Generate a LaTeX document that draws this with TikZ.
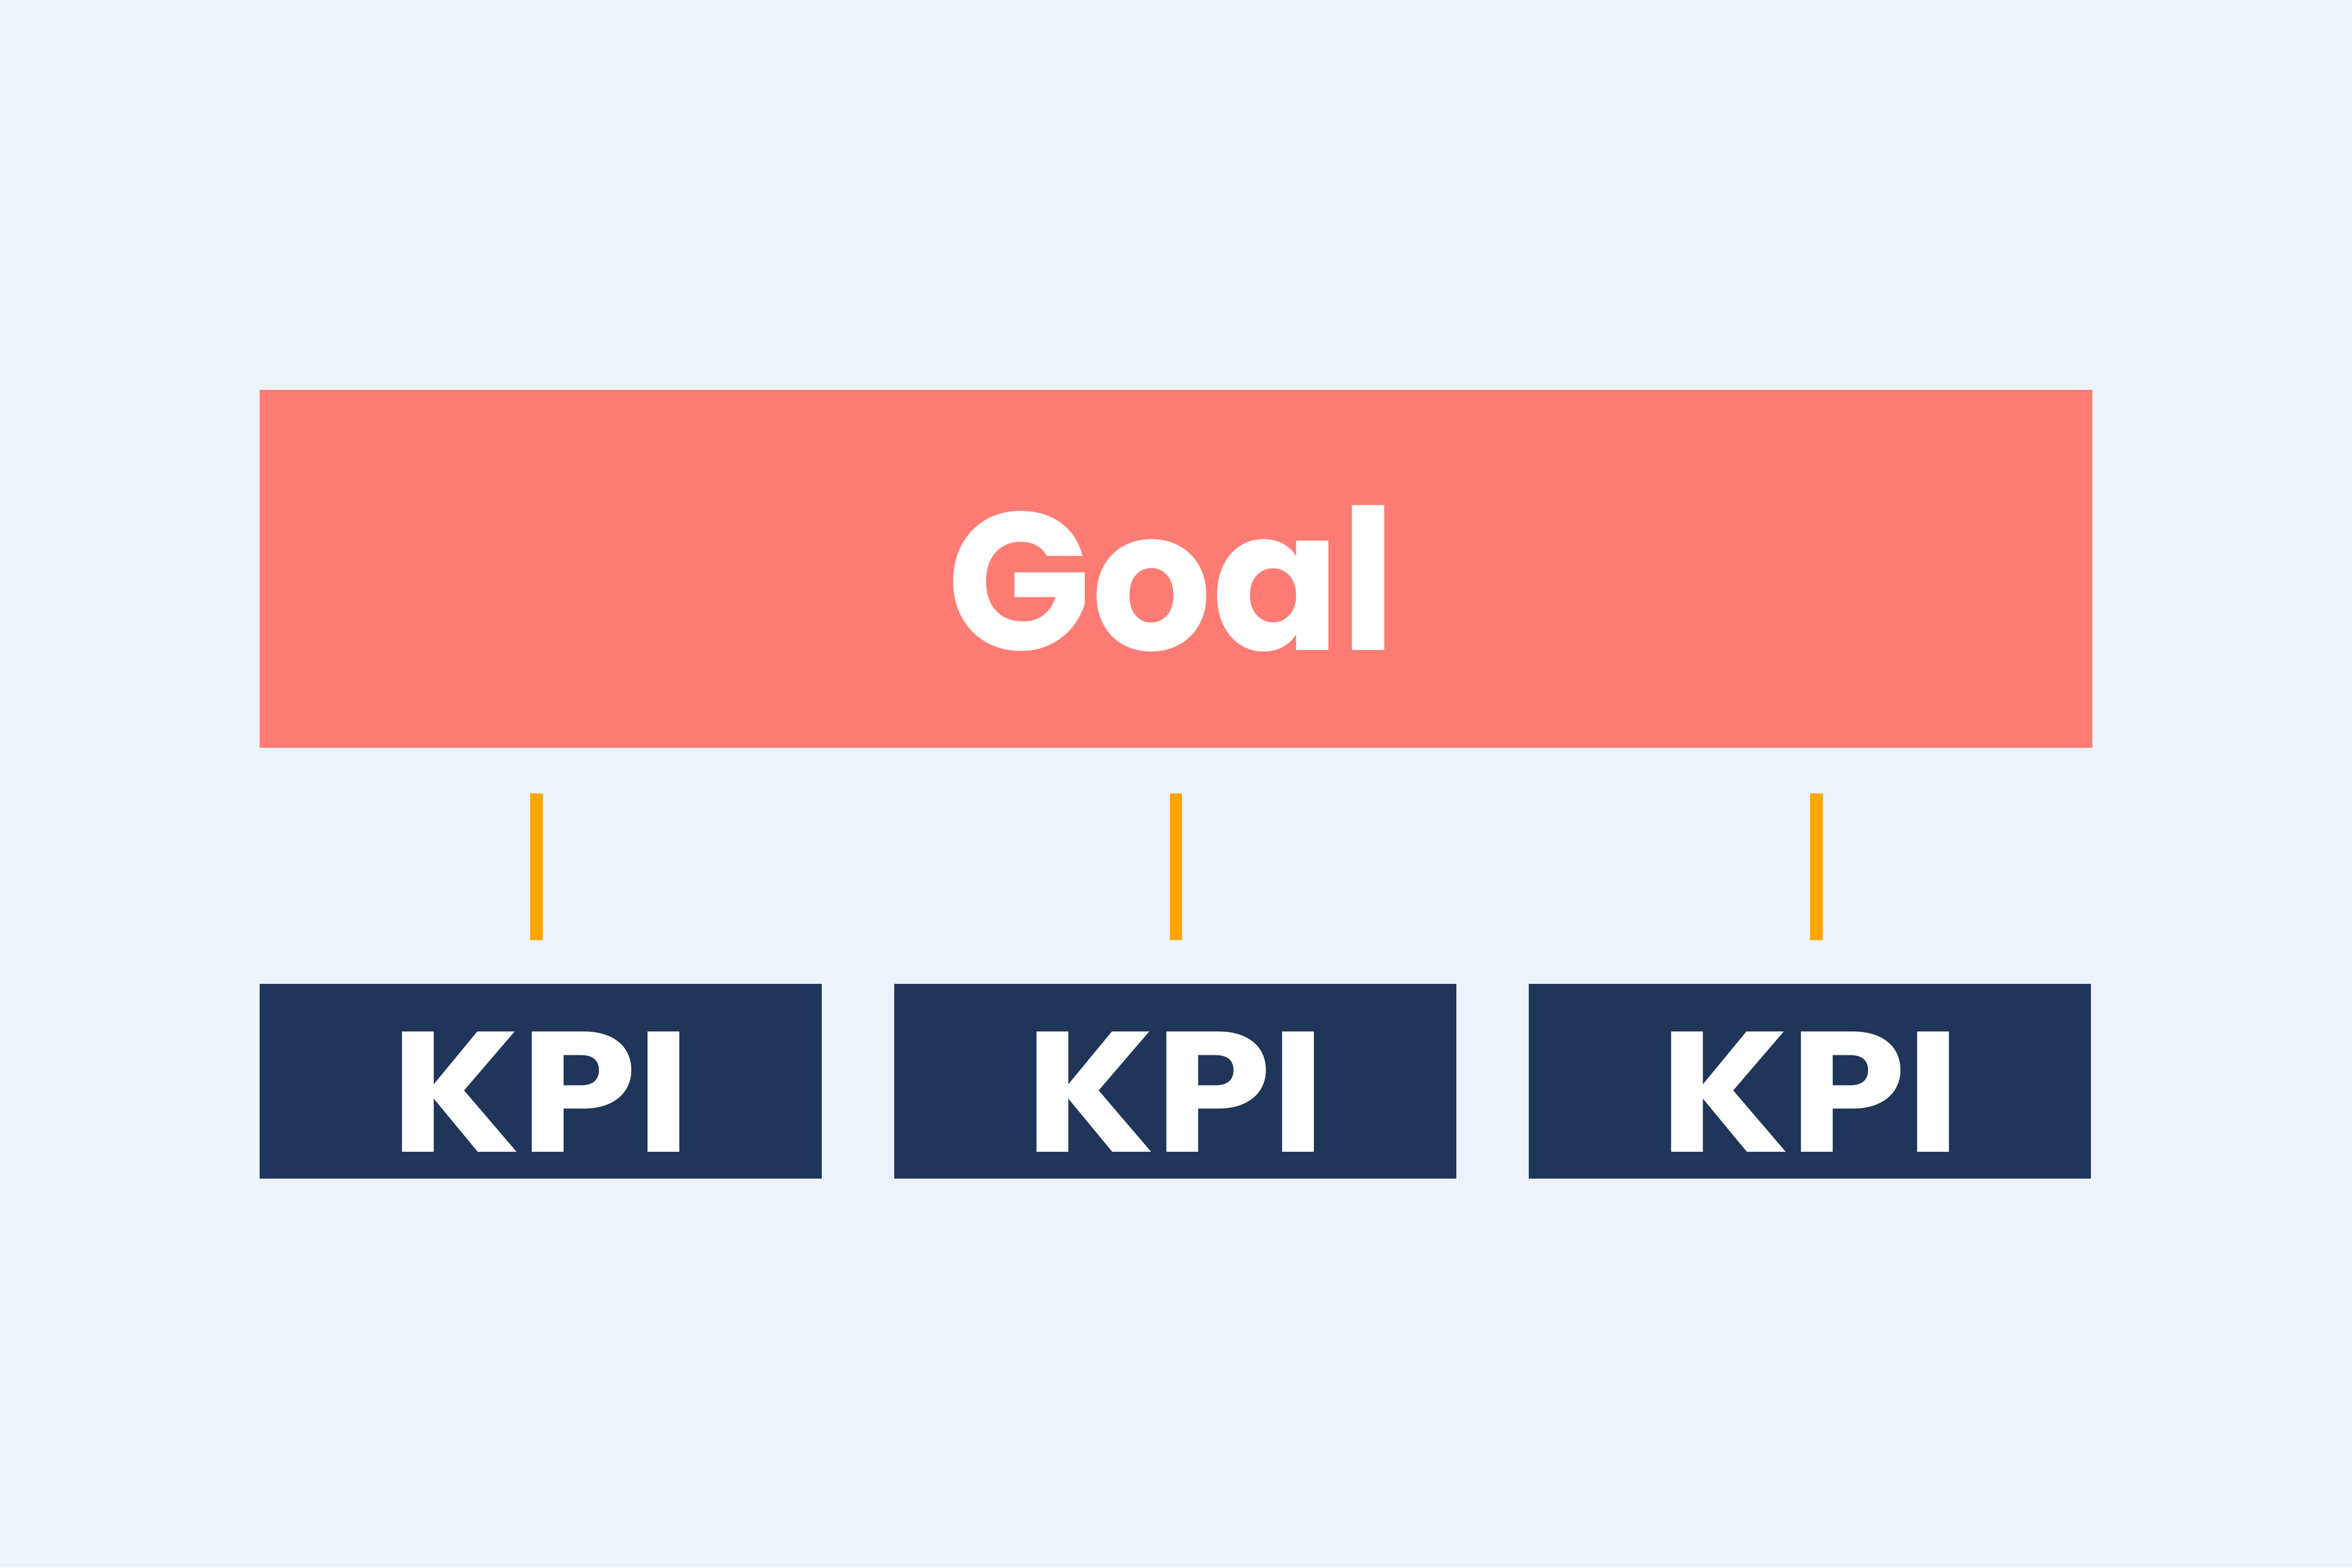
\documentclass[tikz,border=0pt]{standalone}
\usepackage{fontspec}
\setmainfont{Poppins}
\definecolor{bgc}{HTML}{ECF3FA}
\definecolor{goalc}{HTML}{FF7C75}
\definecolor{kpic}{HTML}{1F3559}
\definecolor{linec}{HTML}{FFA500}
\tikzset{
  goalbox/.style={fill=goalc, draw=none},
  kpibox/.style={fill=kpic, draw=none},
  lbl/.style={text=white, font=\bfseries, inner sep=0pt, anchor=base},
  kpilbl/.style={lbl, font=\fontsize{112}{114}\selectfont\bfseries},
  link/.style={draw=linec, line width=0.29cm}
}
\newcommand{\kpitext}{\scalebox{1.085}[1]{KPI}}
\begin{document}
\begin{tikzpicture}
\fill[bgc] (0,0) rectangle (54,36);
\useasboundingbox (0,0) rectangle (54,36);
% goal
\fill[goalbox] (5.96,27.05) rectangle (48.04,18.83);
\node[lbl, font=\fontsize{128}{130}\selectfont\bfseries] (goal) at (26.90,21.07) {\scalebox{0.965}[1]{Goal}};
% kpis
\fill[kpibox] (5.96,13.41) rectangle (18.87,8.93);
\fill[kpibox] (20.53,13.41) rectangle (33.44,8.93);
\fill[kpibox] (35.10,13.41) rectangle (48.01,8.93);
\node[kpilbl] (k1) at (12.42,9.54) {\kpitext};
\node[kpilbl] (k2) at (26.99,9.54) {\kpitext};
\node[kpilbl] (k3) at (41.56,9.54) {\kpitext};
% connectors
\coordinate (t1) at (12.32,17.78); \coordinate (b1) at (12.32,14.41);
\coordinate (t2) at (27.00,17.78); \coordinate (b2) at (27.00,14.41);
\coordinate (t3) at (41.70,17.78); \coordinate (b3) at (41.70,14.41);
\draw[link] (t1) -- (b1);
\draw[link] (t2) -- (b2);
\draw[link] (t3) -- (b3);
\end{tikzpicture}
\end{document}
